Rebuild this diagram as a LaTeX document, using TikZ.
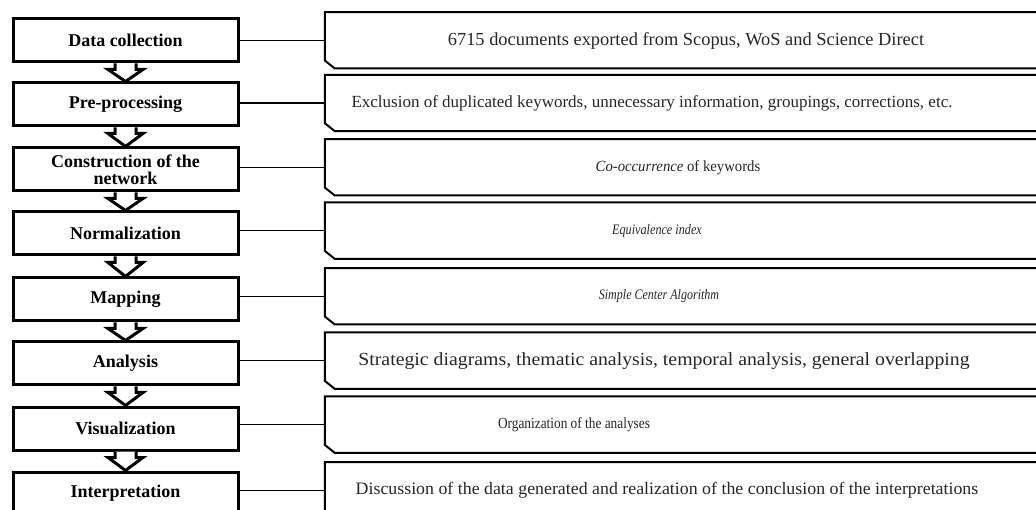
\documentclass[tikz,border=0pt]{standalone}
\usepackage{fontspec}
\setmainfont{Liberation Serif}
\usetikzlibrary{calc}

\tikzset{
  stage/.style={draw=black, line width=3pt, fill=white, minimum width=225pt,
    minimum height=43pt, inner sep=0pt, align=center,
    font=\bfseries\fontsize{18}{17}\selectfont},
  panel/.style={minimum width=725pt, minimum height=56pt, inner sep=0pt},
  panelline/.style={draw=black, line width=2pt, line join=miter},
  desc/.style={inner sep=0pt, text=black!85, font=\fontsize{17.5}{19}\selectfont},
  link/.style={draw=black, line width=1.4pt},
  flow/.style={draw=black, line width=3pt, line join=miter, fill=white},
}
% horizontally condensed or widened text
\newcommand{\hs}[2]{\scalebox{#1}[1]{#2}}
\newcommand{\fs}[1]{\fontsize{#1}{19}\selectfont}

\begin{document}
\begin{tikzpicture}[x=1pt, y=1pt]
\useasboundingbox (0,0) rectangle (1036,-510);
\clip (0,0) rectangle (1036,-510);

% process stages (left column)
\node[stage] (L1) at (125.5,-40.5) {Data collection};
\node[stage] (L2) at (125.5,-104.5) {Pre-processing};
\node[stage] (L3) at (125.5,-169.5) {Construction of the\\network};
\node[stage] (L4) at (125.5,-233.5) {Normalization};
\node[stage] (L5) at (125.5,-299.5) {Mapping};
\node[stage] (L6) at (125.5,-363.5) {Analysis};
\node[stage] (L7) at (125.5,-428.5) {Visualization};
\node[stage] (L8) at (125.5,-493.5) {Interpretation};

% description panels (right column), open to the right
\foreach \i/\y in {1/40.3, 2/103, 3/167.3, 4/230.7, 5/296.3, 6/360.7, 7/424.7, 8/490.3} {
  \node[panel] (R\i) at (687.5,-\y) {};
  \draw[panelline] ($(R\i.south east)$) -- ($(R\i.south west)+(10,0)$)
    -- ($(R\i.south west)+(0,8)$) -- (R\i.north west) -- (R\i.north east);
}

% texts of the panels
\node[desc, font=\fs{18.4}] (T1) at (686,-40.5) {6715 documents exported from Scopus, WoS and Science Direct};
\node[desc, font=\fs{17}] (T2) at (652,-103) {Exclusion of duplicated keywords, unnecessary information, groupings, corrections, etc.};
\node[desc, font=\fs{15.5}] (T3) at (678,-167.3) {\hs{0.95}{\textit{Co-occurrence} of keywords}};
\node[desc, font=\fs{14.5}] (T4) at (657,-230.7) {\hs{0.84}{\textit{Equivalence index}}};
\node[desc, font=\fs{14.5}] (T5) at (659,-296.3) {\hs{0.83}{\textit{Simple Center Algorithm}}};
\node[desc, font=\fs{18.5}] (T6) at (664,-360.7) {\hs{1.07}{Strategic diagrams, thematic analysis, temporal analysis, general overlapping}};
\node[desc, font=\fs{15.5}] (T7) at (574,-424.7) {\hs{0.86}{Organization of the analyses}};
\node[desc, font=\fs{17.5}] (T8) at (667,-490.3) {\hs{1.02}{Discussion of the data generated and realization of the conclusion of the interpretations}};

% links from stages to panels
\foreach \i in {1,...,8} {
  \draw[link] (L\i.east |- R\i.west) -- (R\i.west);
}

% hollow block arrows between consecutive stages
\foreach \a/\b in {1/2, 2/3, 3/4, 4/5, 5/6, 6/7, 7/8} {
  \draw[flow] ($(L\a.south)+(-10.5,0)$) -- ($(L\a.south)+(-10.5,-6)$)
    -- ($(L\a.south)+(-17.5,-6)$) -- (L\b.north)
    -- ($(L\a.south)+(17.5,-6)$) -- ($(L\a.south)+(10.5,-6)$)
    -- ($(L\a.south)+(10.5,0)$);
}
\end{tikzpicture}
\end{document}
